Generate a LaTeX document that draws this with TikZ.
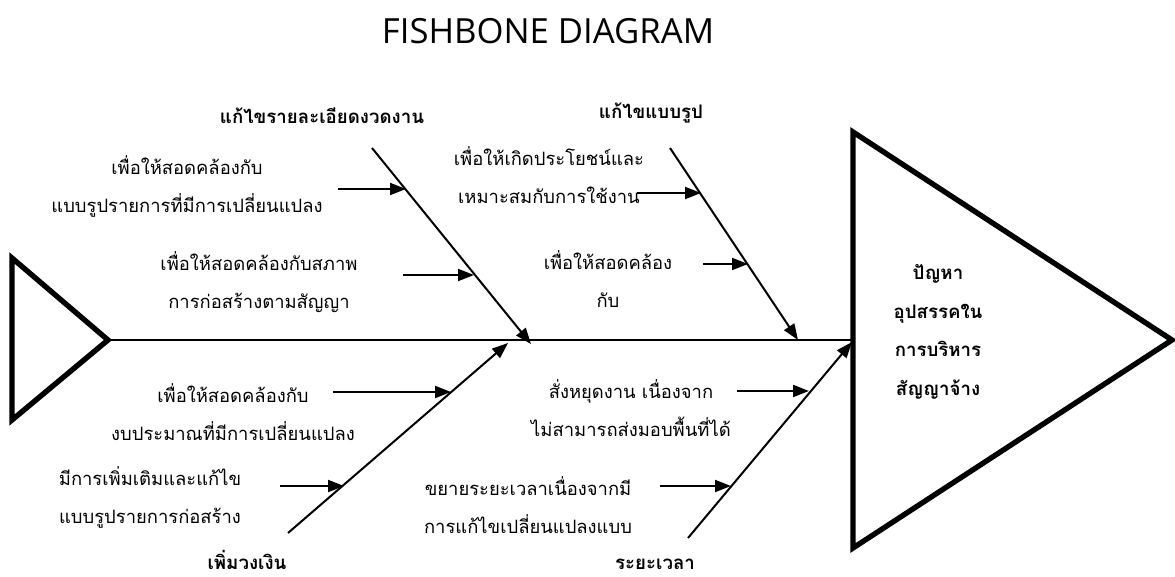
\documentclass[tikz,border=0pt]{standalone}
\usepackage{fontspec}
\setmainfont{Open Sans}
\newfontfamily\thai[Script=Thai]{Loma}
\usetikzlibrary{arrows.meta}

\begin{document}
\begin{tikzpicture}[
		x=0.75pt,
		y=-0.75pt,
		bone/.style={
			line width=1.5pt,
			-{Triangle[length=12pt,width=9pt]},
		},
		cause/.style={
			line width=1.5pt,
			-{Triangle[length=12pt,width=9pt]},
		},
		fish/.style={
			line width=4pt,
			line join=miter,
		},
		every node/.style={
			inner sep=0pt,
			align=center,
		},
		reason/.style={
			font={\thai\fontsize{13.8}{28.5}\selectfont},
		},
		group/.style={
			font={\thai\bfseries\fontsize{14}{17}\selectfont},
		},
	]
		\useasboundingbox (0,0) rectangle (1175,577);

		\node (title) at (548,31) {\fontsize{26}{30}\selectfont FISHBONE DIAGRAM};

		% tail and head of the fish
		\draw[fish] (12,258) -- (108,340) -- (12,420) -- cycle;
		\draw[fish] (853,132) -- (1172,340) -- (853,548) -- cycle;
		\coordinate (tail) at (108,340);
		\coordinate (mouth) at (853,340);
		\draw[line width=2pt] (tail) -- (mouth);

		\node[font={\thai\bfseries\fontsize{14}{29}\selectfont}] (problem) at (938,332)
			{ปัญหา\\อุปสรรคใน\\การบริหาร\\สัญญาจ้าง};

		% main bones
		\coordinate (drawS) at (372,148);
		\coordinate (drawE) at (531,344);
		\coordinate (planS) at (670,148);
		\coordinate (planE) at (798,340);
		\coordinate (budgetS) at (288,533);
		\coordinate (budgetE) at (508,343);
		\coordinate (timeS) at (688,538);
		\coordinate (timeE) at (852,342);
		\draw[bone] (drawS) -- (drawE);
		\draw[bone] (planS) -- (planE);
		\draw[bone] (budgetS) -- (budgetE);
		\draw[bone] (timeS) -- (timeE);

		\node[group] (drawLbl) at (322,116) {แก้ไขรายละเอียดงวดงาน};
		\node[group] (planLbl) at (651,113) {แก้ไขแบบรูป};
		\node[group] (budgetLbl) at (247,560) {เพิ่มวงเงิน};
		\node[group] (timeLbl) at (655,564) {ระยะเวลา};

		% causes
		\node[reason] (drawA) at (187,186) {เพื่อให้สอดคล้องกับ\\แบบรูปรายการที่มีการเปลี่ยนแปลง};
		\node[reason] (drawB) at (259,282) {เพื่อให้สอดคล้องกับสภาพ\\การก่อสร้างตามสัญญา};
		\node[reason] (budgetA) at (233,412) {เพื่อให้สอดคล้องกับ\\งบประมาณที่มีการเปลี่ยนแปลง};
		\node[reason] (budgetB) at (150,497) {มีการเพิ่มเติมและแก้ไข\\แบบรูปรายการก่อสร้าง};
		\node[reason] (planA) at (549,175) {เพื่อให้เกิดประโยชน์และ\\เหมาะสมกับการใช้งาน};
		\node[reason] (planB) at (608,279) {เพื่อให้สอดคล้อง\\กับ};
		\node[reason] (timeA) at (631,408) {สั่งหยุดงาน เนื่องจาก\\ไม่สามารถส่งมอบพื้นที่ได้};
		\node[reason] (timeB) at (528,505) {ขยายระยะเวลาเนื่องจากมี\\การแก้ไขเปลี่ยนแปลงแบบ};

		\coordinate (drawA1) at (338,189);
		\coordinate (drawA2) at (406,189);
		\coordinate (drawB1) at (403,275);
		\coordinate (drawB2) at (474,275);
		\coordinate (budgetA1) at (333,392);
		\coordinate (budgetA2) at (451,392);
		\coordinate (budgetB1) at (280,486);
		\coordinate (budgetB2) at (344,486);
		\coordinate (planA1) at (637,193);
		\coordinate (planA2) at (701,193);
		\coordinate (planB1) at (703,264);
		\coordinate (planB2) at (748,264);
		\coordinate (timeA1) at (737,391);
		\coordinate (timeA2) at (809,391);
		\coordinate (timeB1) at (660,486);
		\coordinate (timeB2) at (731,486);
		\foreach \c in {drawA,drawB,budgetA,budgetB,planA,planB,timeA,timeB}
			\draw[cause] (\c1) -- (\c2);
	\end{tikzpicture}
\end{document}
